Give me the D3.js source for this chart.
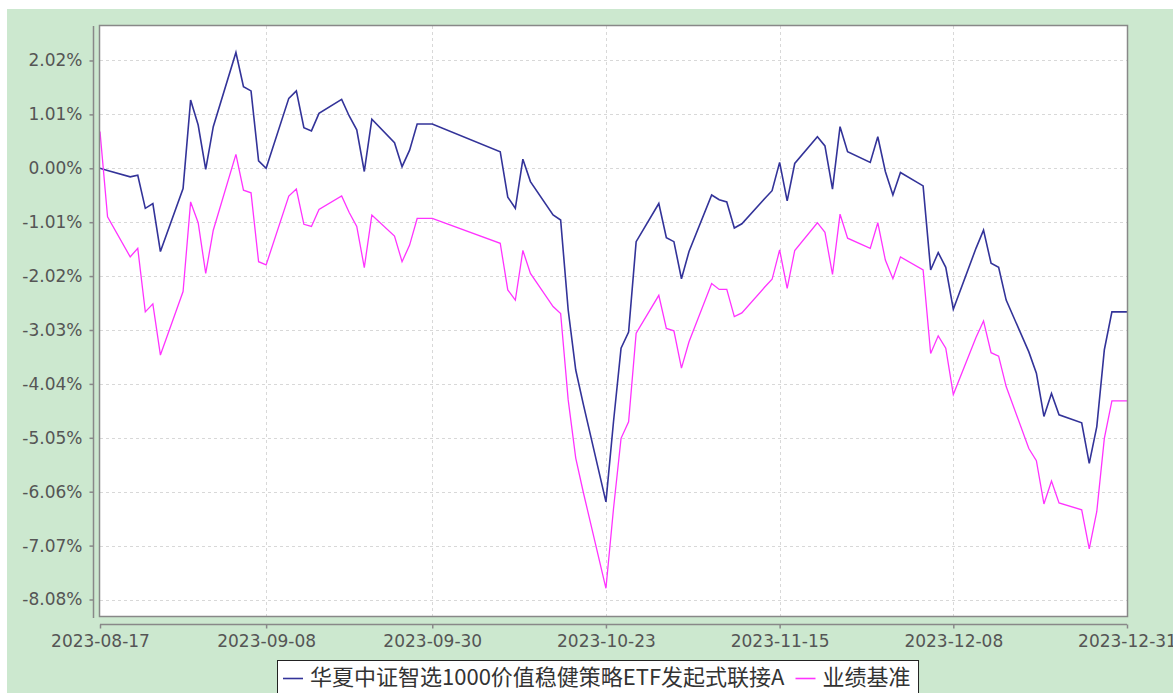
<!DOCTYPE html>
<html>
<head>
<meta charset="utf-8">
<script src="https://cdn.jsdelivr.net/npm/d3@7"></script>
<style>
  body { margin: 0; background: #fff; }
  .tick-label { font-family: "DejaVu Sans", sans-serif; font-size: 17px; fill: #555; }
  .legend-text { font-family: "Noto Sans CJK SC", sans-serif; font-size: 22px; fill: #333; }
</style>
</head>
<body>
<svg id="chart"></svg>
<script>
// trading days (plus quarter-end / year-end NAV days)
const dates = [
  "2023-08-17","2023-08-18","2023-08-21","2023-08-22","2023-08-23","2023-08-24","2023-08-25",
  "2023-08-28","2023-08-29","2023-08-30","2023-08-31","2023-09-01",
  "2023-09-04","2023-09-05","2023-09-06","2023-09-07","2023-09-08",
  "2023-09-11","2023-09-12","2023-09-13","2023-09-14","2023-09-15",
  "2023-09-18","2023-09-19","2023-09-20","2023-09-21","2023-09-22",
  "2023-09-25","2023-09-26","2023-09-27","2023-09-28","2023-09-30",
  "2023-10-09","2023-10-10","2023-10-11","2023-10-12","2023-10-13",
  "2023-10-16","2023-10-17","2023-10-18","2023-10-19","2023-10-20",
  "2023-10-23","2023-10-24","2023-10-25","2023-10-26","2023-10-27",
  "2023-10-30","2023-10-31","2023-11-01","2023-11-02","2023-11-03",
  "2023-11-06","2023-11-07","2023-11-08","2023-11-09","2023-11-10",
  "2023-11-13","2023-11-14","2023-11-15","2023-11-16","2023-11-17",
  "2023-11-20","2023-11-21","2023-11-22","2023-11-23","2023-11-24",
  "2023-11-27","2023-11-28","2023-11-29","2023-11-30","2023-12-01",
  "2023-12-04","2023-12-05","2023-12-06","2023-12-07","2023-12-08",
  "2023-12-11","2023-12-12","2023-12-13","2023-12-14","2023-12-15",
  "2023-12-18","2023-12-19","2023-12-20","2023-12-21","2023-12-22",
  "2023-12-25","2023-12-26","2023-12-27","2023-12-28","2023-12-29","2023-12-31"
];

const fundValues = [
  0.00, -0.04, -0.16, -0.13, -0.75, -0.66, -1.56,
  -0.38, 1.28, 0.81, -0.02, 0.78,
  2.17, 1.53, 1.45, 0.14, 0.00,
  1.31, 1.45, 0.76, 0.70, 1.03,
  1.29, 0.98, 0.72, -0.06, 0.92,
  0.48, 0.03, 0.34, 0.83, 0.83,
  0.31, -0.54, -0.75, 0.17, -0.25,
  -0.875, -0.97, -2.655, -3.78, -4.42,
  -6.25, -4.75, -3.37, -3.07, -1.375,
  -0.66, -1.30, -1.375, -2.07, -1.56,
  -0.50, -0.59, -0.63, -1.12, -1.04,
  -0.57, -0.42, 0.11, -0.61, 0.09,
  0.59, 0.42, -0.39, 0.78, 0.31,
  0.11, 0.59, -0.06, -0.50, -0.08,
  -0.33, -1.905, -1.58, -1.855, -2.64,
  -1.50, -1.16, -1.78, -1.855, -2.47,
  -3.44, -3.84, -4.65, -4.22, -4.62,
  -4.77, -5.53, -4.84, -3.40, -2.69, -2.69
];

const benchValues = [
  0.69, -0.91, -1.66, -1.50, -2.69, -2.54, -3.50,
  -2.31, -0.63, -1.02, -1.97, -1.16,
  0.26, -0.41, -0.46, -1.75, -1.81,
  -0.52, -0.39, -1.05, -1.09, -0.77,
  -0.52, -0.83, -1.09, -1.86, -0.875,
  -1.27, -1.75, -1.44, -0.94, -0.94,
  -1.405, -2.28, -2.47, -1.54, -1.97,
  -2.59, -2.72, -4.34, -5.43, -6.07,
  -7.87, -6.38, -5.06, -4.75, -3.09,
  -2.38, -3.00, -3.045, -3.745, -3.25,
  -2.16, -2.27, -2.27, -2.78, -2.71,
  -2.23, -2.08, -1.53, -2.25, -1.54,
  -1.02, -1.20, -1.99, -0.86, -1.31,
  -1.50, -1.02, -1.72, -2.07, -1.66,
  -1.905, -3.47, -3.14, -3.37, -4.24,
  -3.17, -2.86, -3.455, -3.52, -4.09,
  -5.25, -5.48, -6.29, -5.86, -6.27,
  -6.40, -7.13, -6.43, -5.06, -4.36, -4.36
];

const xTickLabels = ["2023-08-17","2023-09-08","2023-09-30","2023-10-23","2023-11-15","2023-12-08","2023-12-31"];
const yTickSteps = [2, 1, 0, -1, -2, -3, -4, -5, -6, -7, -8]; // multiples of 1.01%
const seriesNames = ["华夏中证智选1000价值稳健策略ETF发起式联接A", "业绩基准"];
const seriesColors = ["#333399", "#ff33ff"];

const width = 1173;
const height = 693;
const plot = { left: 100, right: 1127, top: 26, bottom: 616 };

const parse = d3.timeParse("%Y-%m-%d");
const series = [fundValues, benchValues].map((vals) =>
  dates.map((d, i) => ({ date: parse(d), value: vals[i] }))
);

const svg = d3.select("#chart").attr("width", width).attr("height", height);

// green panel
svg.append("rect")
  .attr("x", 7).attr("y", 9)
  .attr("width", width - 7).attr("height", height - 9)
  .attr("fill", "#cce8cf");

// scales
const xScale = d3.scaleTime()
  .domain([parse(xTickLabels[0]), parse(xTickLabels[xTickLabels.length - 1])])
  .range([plot.left, plot.right]);

const yScale = d3.scaleLinear()
  .domain([-8.389, 2.666])
  .range([plot.bottom, plot.top]);

const yTicks = yTickSteps.map((k) => k * 1.01);
const xTicks = xTickLabels.map(parse);

// plot background
svg.append("rect")
  .attr("x", plot.left).attr("y", plot.top)
  .attr("width", plot.right - plot.left).attr("height", plot.bottom - plot.top)
  .attr("fill", "#fff");

// grid
svg.append("g").selectAll("line")
  .data(yTicks)
  .enter().append("line")
  .attr("x1", plot.left).attr("x2", plot.right)
  .attr("y1", (d) => Math.round(yScale(d)) + 0.5)
  .attr("y2", (d) => Math.round(yScale(d)) + 0.5)
  .attr("stroke", "#d8d8d8").attr("stroke-dasharray", "3,3");

svg.append("g").selectAll("line")
  .data(xTicks.slice(1, -1))
  .enter().append("line")
  .attr("y1", plot.top).attr("y2", plot.bottom)
  .attr("x1", (d) => Math.round(xScale(d)) + 0.5)
  .attr("x2", (d) => Math.round(xScale(d)) + 0.5)
  .attr("stroke", "#d8d8d8").attr("stroke-dasharray", "3,3");

// lines
const line = d3.line()
  .x((d) => xScale(d.date))
  .y((d) => yScale(d.value));

svg.append("g").selectAll("path")
  .data(series)
  .enter().append("path")
  .attr("d", line)
  .attr("fill", "none")
  .attr("stroke", (d, i) => seriesColors[i])
  .attr("stroke-width", (d, i) => (i === 0 ? 1.6 : 1.3))
  .attr("stroke-linejoin", "miter");

// plot frame
svg.append("rect")
  .attr("x", plot.left - 0.5).attr("y", plot.top - 0.5)
  .attr("width", plot.right - plot.left + 1).attr("height", plot.bottom - plot.top + 1)
  .attr("fill", "none").attr("stroke", "#888").attr("stroke-width", 1.5);

// axes
const yAxis = d3.axisLeft(yScale)
  .tickValues(yTicks)
  .tickSize(4)
  .tickPadding(7)
  .tickFormat((d) => d.toFixed(2) + "%");

const yAxisG = svg.append("g")
  .attr("transform", `translate(93.5,0)`)
  .call(yAxis);
yAxisG.select(".domain").attr("d", `M0,${plot.top}V${plot.bottom + 2}`);

const xAxis = d3.axisBottom(xScale)
  .tickValues(xTicks)
  .tickSize(4)
  .tickPadding(4)
  .tickFormat(d3.timeFormat("%Y-%m-%d"));

const xAxisG = svg.append("g")
  .attr("transform", `translate(0,624.5)`)
  .call(xAxis);
xAxisG.select(".domain").attr("d", `M${plot.left},0H${plot.right}`);

[yAxisG, xAxisG].forEach((g) => {
  g.select(".domain").attr("stroke", "#888").attr("stroke-width", 1.5);
  g.selectAll(".tick line").attr("stroke", "#888").attr("stroke-width", 1.5);
  g.selectAll(".tick text").attr("class", "tick-label").attr("fill", null);
});
xAxisG.selectAll(".tick text").attr("dy", "0.85em");

// legend
const legend = svg.append("g");
const legendBox = legend.append("rect")
  .attr("x", 277.5).attr("y", 660.5)
  .attr("height", 40)
  .attr("fill", "#fff").attr("stroke", "#222");

let lx = 283;
seriesNames.forEach((name, i) => {
  legend.append("line")
    .attr("x1", lx).attr("x2", lx + 20)
    .attr("y1", 678.5).attr("y2", 678.5)
    .attr("stroke", seriesColors[i]).attr("stroke-width", 1.6);
  const t = legend.append("text")
    .attr("class", "legend-text")
    .attr("x", lx + 27).attr("y", 679)
    .attr("dominant-baseline", "middle")
    .text(name);
  lx += 27 + t.node().getComputedTextLength() + 11;
});
legendBox.attr("width", lx - 277.5 - 3);
</script>
</body>
</html>
